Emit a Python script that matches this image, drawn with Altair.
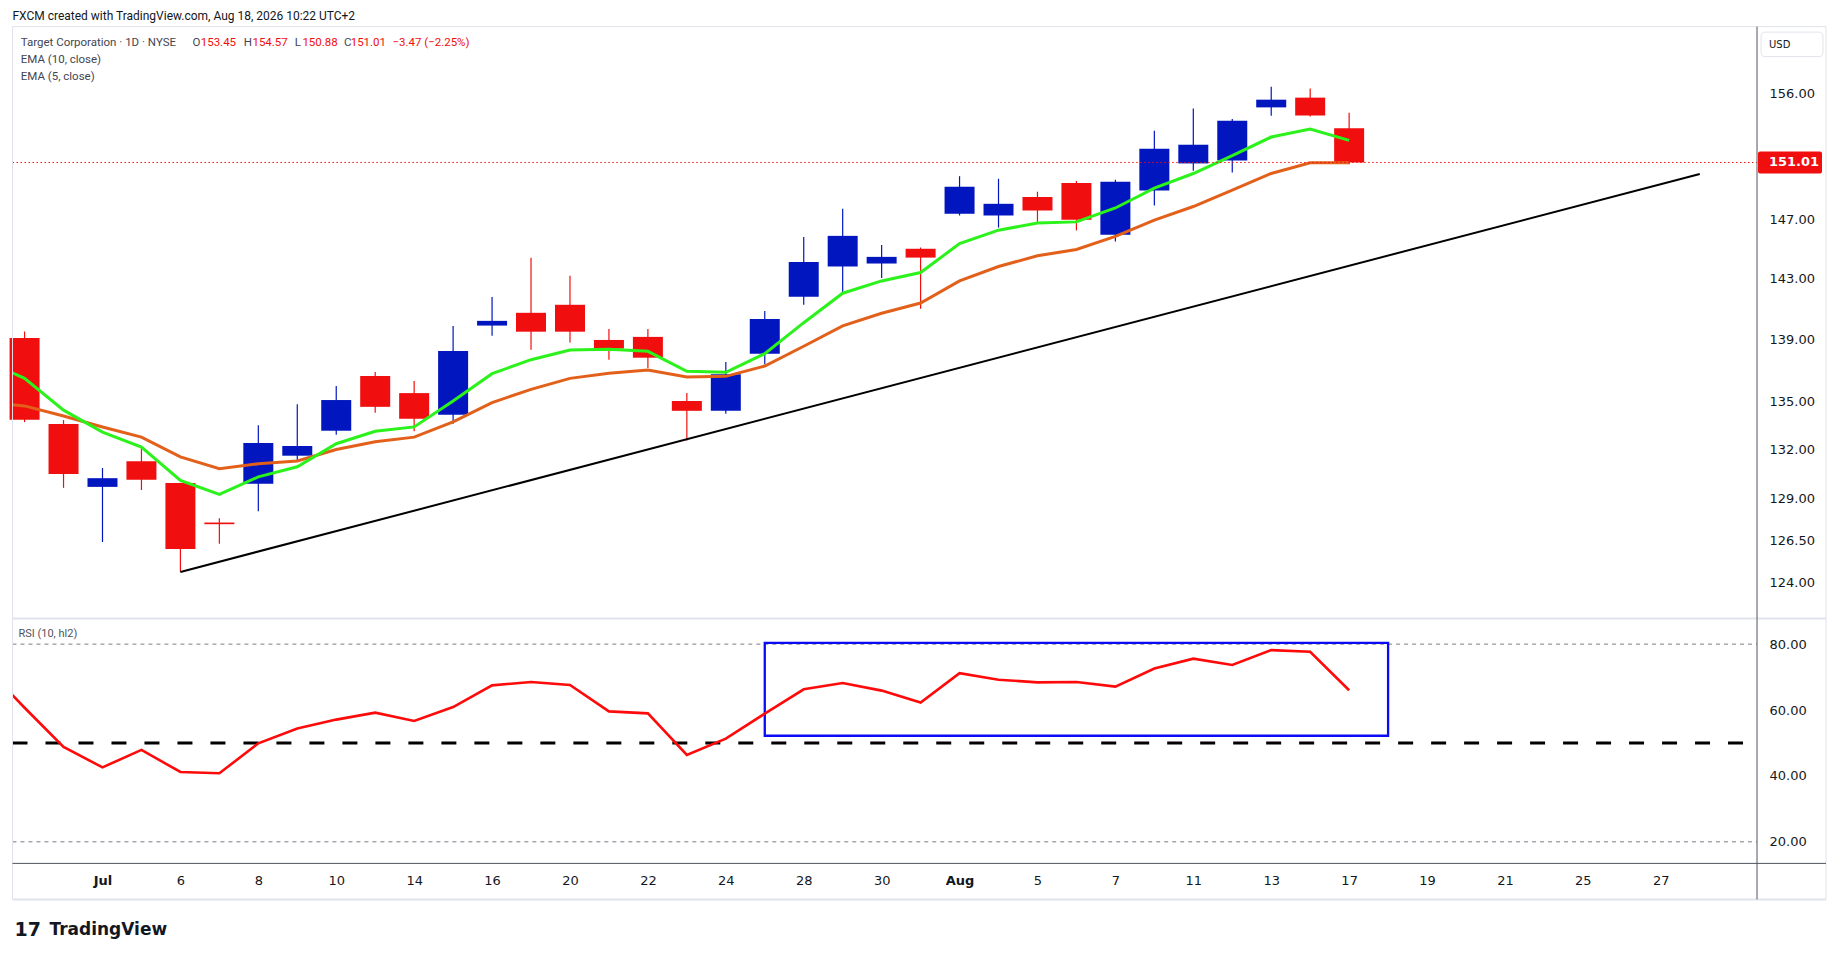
import json
import pandas as pd
import altair as alt

# ---------------- data ----------------
dates = ["Jun 29", "Jun 30", "Jul 1", "Jul 2", "Jul 6", "Jul 7", "Jul 8", "Jul 9", "Jul 10",
         "Jul 13", "Jul 14", "Jul 15", "Jul 16", "Jul 17", "Jul 20", "Jul 21", "Jul 22",
         "Jul 23", "Jul 24", "Jul 27", "Jul 28", "Jul 29", "Jul 30", "Jul 31", "Aug 3",
         "Aug 4", "Aug 5", "Aug 6", "Aug 7", "Aug 10", "Aug 11", "Aug 12", "Aug 13",
         "Aug 14", "Aug 17"]
open_ = [139.07, 133.58, 129.70, 131.27, 129.93, 127.55, 129.89, 131.61, 133.16, 136.62,
         135.53, 134.16, 139.89, 140.73, 141.26, 138.95, 139.15, 135.03, 134.41, 138.06,
         141.80, 143.82, 144.02, 145.02, 147.42, 147.30, 148.59, 149.57, 145.98, 149.04,
         150.94, 151.15, 154.96, 155.67, 153.45]
high = [139.50, 133.83, 130.85, 132.10, 129.95, 127.81, 133.51, 134.83, 135.99, 136.88,
        136.30, 139.87, 141.77, 144.41, 143.19, 139.67, 139.67, 135.53, 137.52, 140.85,
        145.83, 147.76, 145.28, 145.10, 150.04, 149.86, 148.95, 149.71, 149.79, 153.27,
        154.87, 154.12, 156.47, 156.33, 154.57]
low = [133.70, 129.64, 126.39, 129.51, 124.63, 126.28, 128.23, 131.35, 132.91, 134.29,
       133.12, 133.60, 139.23, 138.32, 138.78, 137.67, 137.14, 132.55, 134.22, 137.37,
       141.27, 142.05, 143.05, 141.00, 147.30, 146.47, 146.86, 146.27, 145.52, 148.00,
       150.42, 150.30, 154.36, 154.30, 150.88]
close = [133.85, 130.49, 130.23, 130.13, 125.98, 127.45, 132.39, 132.21, 135.09, 134.66,
         133.91, 138.23, 140.20, 139.49, 139.49, 138.39, 137.80, 134.41, 136.73, 140.32,
         144.13, 145.90, 144.47, 144.42, 149.30, 148.11, 147.64, 147.01, 149.65, 151.98,
         152.27, 154.00, 155.52, 154.37, 151.01]

ind_dates = ["Jun 26"] + dates
ema10 = [134.96, 134.72, 134.08, 133.39, 132.76, 131.54, 130.81, 131.11, 131.29, 131.99,
         132.47, 132.76, 133.72, 134.93, 135.77, 136.47, 136.80, 137.00, 136.56, 136.60,
         137.26, 138.54, 139.87, 140.70, 141.38, 142.85, 143.82, 144.54, 144.97, 145.86,
         146.98, 147.92, 149.06, 150.23, 150.99, 150.99]
ema5 = [137.62, 136.47, 134.45, 133.07, 132.14, 130.09, 129.25, 130.31, 130.93, 132.35,
        133.13, 133.40, 135.03, 136.77, 137.67, 138.30, 138.34, 138.21, 136.92, 136.86,
        138.06, 140.08, 142.03, 142.85, 143.41, 145.37, 146.29, 146.78, 146.86, 147.82,
        149.20, 150.23, 151.49, 152.82, 153.40, 152.58]
rsi = [73.0, 60.7, 48.8, 42.6, 47.9, 41.2, 40.8, 49.9, 54.4, 57.1, 59.2, 56.7, 60.9, 67.5,
       68.5, 67.6, 59.6, 59.0, 46.4, 51.3, 58.9, 66.3, 68.2, 65.9, 62.3, 71.2, 69.2, 68.4,
       68.5, 67.1, 72.6, 75.6, 73.7, 78.2, 77.7, 66.0]

tick_idx = list(range(2, 43, 2))
tick_labels = ["Jul", "6", "8", "10", "14", "16", "20", "22", "24", "28", "30", "Aug",
               "5", "7", "11", "13", "17", "19", "21", "25", "27"]
price_ticks = [124, 126.5, 129, 132, 135, 139, 143, 147, 156]
rsi_ticks = [20, 40, 60, 80]
trend_idx = [4, 43]
trend_price = [124.63, 150.20]
box_idx = [19, 35]
box_rsi = [52.2, 80.4]
rsi_bands = [80, 20]
rsi_mid = [50]

header = "FXCM created with TradingView.com, Aug 18, 2026 10:22 UTC+2"
symbol = "Target Corporation · 1D · NYSE"
ohlc_keys = ["O", "H", "L", "C"]
ohlc_vals = ["153.45", "154.57", "150.88", "151.01"]
change_txt = "−3.47 (−2.25%)"

# ---------------- styles ----------------
RED = "#F00E0E"
BLUE = "#0216BF"
GREEN = "#2BF21B"
ORANGE = "#E2601A"
RSI_RED = "#FF0A0A"
BOX_BLUE = "#0A0AF5"
TXT = "#131722"
FRAME = "#E0E3EB"
AXLINE = "#50535E"

W, H1, H2, XR = 1745, 592, 245, 1814

xs = alt.Scale(domain=[-0.31, 44.47], nice=False, zero=False)
ys = alt.Scale(type="log", domain=[121.94, 160.94], nice=False)
rs = alt.Scale(domain=[13.45, 87.8], nice=False, zero=False)

candles = pd.DataFrame({"date": dates, "open": open_, "high": high, "low": low, "close": close})
candles["i"] = range(len(dates))
candles["dir"] = ["up" if c >= o else "down" for o, c in zip(open_, close)]
ind = pd.DataFrame({"date": ind_dates, "ema10": ema10, "ema5": ema5, "rsi": rsi})
ind["i"] = [k - 1 for k in range(len(ind_dates))]
trend = pd.DataFrame({"i": trend_idx, "p": trend_price})
last = pd.DataFrame({"p": [close[-1]], "t": [f"{close[-1]:.2f}"]})

one = pd.DataFrame({"k": [0]})


def hrule(y, x1, x2, color, w=1.0):
    return alt.Chart(one).mark_rule(color=color, strokeWidth=w).encode(
        x=alt.value(x1), x2=alt.value(x2), y=alt.value(y))


def vrule(x, y1, y2, color, w=1.0):
    return alt.Chart(one).mark_rule(color=color, strokeWidth=w).encode(
        x=alt.value(x), y=alt.value(y1), y2=alt.value(y2))


def label(text, x, y, color=TXT, size=11.5, font="Roboto", weight="normal"):
    return alt.Chart(pd.DataFrame({"t": [text]})).mark_text(
        align="left", baseline="middle", font=font, fontSize=size,
        fontWeight=weight, color=color).encode(x=alt.value(x), y=alt.value(y), text="t:N")


col = alt.Color("dir:N", scale=alt.Scale(domain=["up", "down"], range=[BLUE, RED]), legend=None)

yaxis = alt.Axis(orient="right", values=price_ticks, format=".2f", labelPadding=12, title=None)


def PY(field):
    return alt.Y(field, scale=ys, axis=yaxis, title=None)


def MX(field):
    return alt.X(field, scale=xs, axis=None)


wicks = alt.Chart(candles).mark_rule(strokeWidth=1.2).encode(
    x=MX("i:Q"), y=PY("low:Q"), y2="high:Q", color=col)
bodies = alt.Chart(candles).transform_calculate(
    xl="datum.i - 0.385", xr="datum.i + 0.385").mark_rect().encode(
    x=MX("xl:Q"), x2="xr:Q", y=PY("open:Q"), y2="close:Q", color=col)
line10 = alt.Chart(ind).mark_line(color=ORANGE, strokeWidth=3, clip=True).encode(
    x=MX("i:Q"), y=PY("ema10:Q"))
line5 = alt.Chart(ind).mark_line(color=GREEN, strokeWidth=3, clip=True).encode(
    x=MX("i:Q"), y=PY("ema5:Q"))
trend_line = alt.Chart(trend).mark_line(color="black", strokeWidth=2).encode(
    x=MX("i:Q"), y=PY("p:Q"))
price_line = alt.Chart(last).mark_rule(color=RED, strokeWidth=1, strokeDash=[1.5, 2.5]).encode(
    y=PY("p:Q"), x=alt.value(0), x2=alt.value(W))
price_box = alt.Chart(last).mark_rect(color=RED, yOffset=-11, y2Offset=11, cornerRadius=2).encode(
    y=PY("p:Q"), y2="p:Q", x=alt.value(W + 1), x2=alt.value(W + 65))
price_txt = alt.Chart(last).mark_text(align="left", baseline="middle", font="DejaVu Sans",
                                      fontSize=13, fontWeight="bold", color="white").encode(
    y=PY("p:Q"), x=alt.value(W + 12), text="t:N")
usd_box = alt.Chart(one).mark_rect(fill="white", stroke=FRAME, strokeWidth=1, cornerRadius=4).encode(
    x=alt.value(W + 4), x2=alt.value(W + 66), y=alt.value(5.5), y2=alt.value(30))

legend_layers = [label(header, 0, -11, TXT, 12),
                 label(symbol, 8.3, 16.3, "#434651")]
key_x = [180, 231.3, 282.3, 331.7]
val_x = [188.3, 240, 290, 338.3]
for k, v, kx, vx in zip(ohlc_keys, ohlc_vals, key_x, val_x):
    legend_layers.append(label(k, kx, 16.3, "#434651"))
    legend_layers.append(label(v, vx, 16.3, RED))
legend_layers.append(label(change_txt, 380, 16.3, RED))
legend_layers.append(label("EMA (10, close)", 8.3, 33.3, "#434651"))
legend_layers.append(label("EMA (5, close)", 8.3, 50, "#434651"))
legend_layers.append(label("USD", W + 12, 18, TXT, 10, "DejaVu Sans"))

main = alt.layer(
    wicks, bodies, line10, line5, trend_line, price_line,
    hrule(0, 0, XR, FRAME), vrule(0, 0, H1, FRAME), vrule(XR, 0, H1, FRAME),
    hrule(H1, 0, XR, FRAME, 2), vrule(W, 0, H1, AXLINE),
    usd_box, price_box, price_txt, *legend_layers
).properties(width=W, height=H1)

# ---------------- RSI pane ----------------
label_expr = f"{json.dumps(tick_labels)}[(datum.value - 2) / 2]"
month_idx = [t for t, s in zip(tick_idx, tick_labels) if s.isalpha()]
weight_expr = " || ".join(f"datum.value == {m}" for m in month_idx) + " ? 'bold' : 'normal'"
xaxis = alt.Axis(orient="bottom", values=tick_idx, labelExpr=label_expr,
                 labelFontWeight={"expr": weight_expr}, labelPadding=11,
                 labelOverlap=False, labelFlush=False, title=None)
raxis = alt.Axis(orient="right", values=rsi_ticks, format=".2f", labelPadding=12, title=None)


def RX(field):
    return alt.X(field, scale=xs, axis=xaxis, title=None)


def RY(field):
    return alt.Y(field, scale=rs, axis=raxis, title=None)


rsi_line = alt.Chart(ind).mark_line(color=RSI_RED, strokeWidth=2.6, clip=True).encode(
    x=RX("i:Q"), y=RY("rsi:Q"))
bands = alt.Chart(pd.DataFrame({"lv": rsi_bands})).mark_rule(
    color="#787B86", strokeWidth=1, strokeDash=[4, 4]).encode(
    y=RY("lv:Q"), x=alt.value(0), x2=alt.value(W))
mid = alt.Chart(pd.DataFrame({"lv": rsi_mid})).mark_rule(
    color="black", strokeWidth=3, strokeDash=[15, 18]).encode(
    y=RY("lv:Q"), x=alt.value(0), x2=alt.value(1731))
box = alt.Chart(pd.DataFrame({"x1": [box_idx[0]], "x2": [box_idx[1]],
                              "y1": [box_rsi[0]], "y2": [box_rsi[1]]})).mark_rect(
    fillOpacity=0, stroke=BOX_BLUE, strokeWidth=2.3).encode(
    x=RX("x1:Q"), x2="x2:Q", y=RY("y1:Q"), y2="y2:Q")

rsi_chart = alt.layer(
    bands, mid, box, rsi_line,
    vrule(0, 0, H2 + 36, FRAME), vrule(XR, 0, H2 + 36, FRAME),
    hrule(H2 + 36, 0, XR, FRAME, 2), hrule(H2, 0, XR, AXLINE), vrule(W, 0, H2 + 36, AXLINE),
    label("RSI (10, hl2)", 6, 16, "#50535E", 11),
    label("17", 2, 312, TXT, 19, "DejaVu Sans", "bold"),
    label("TradingView", 37, 312, TXT, 17, "DejaVu Sans", "bold"),
).properties(width=W, height=H2)

chart = alt.VConcatChart(vconcat=[main, rsi_chart], spacing=0, bounds="flush").properties(
    padding={"left": 1.5, "top": 1.5, "right": 0, "bottom": 0}, background="white"
).configure_view(stroke=None).configure_axis(
    labelFont="DejaVu Sans", labelFontSize=13, labelColor=TXT,
    ticks=False, domain=False, grid=False)

chart.save("out.html", embed_options={"renderer": "svg", "actions": False})
